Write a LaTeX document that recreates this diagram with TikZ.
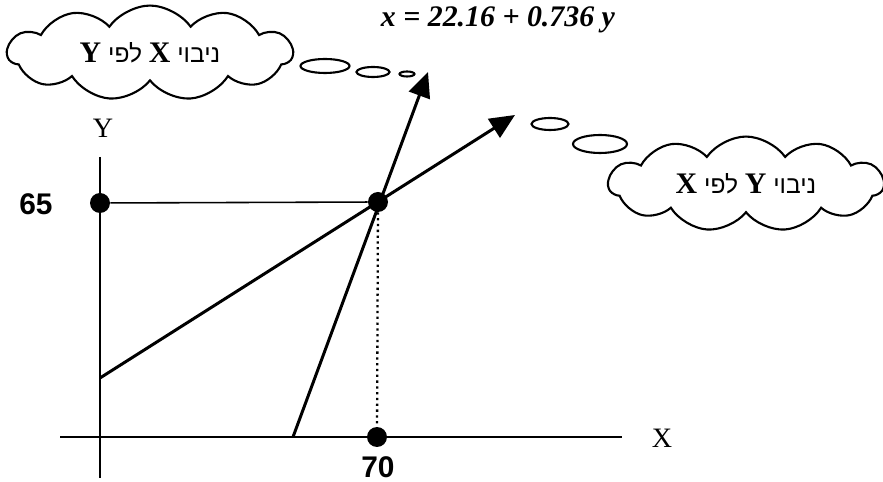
\documentclass[tikz,border=0pt]{standalone}
\usepackage{fontspec}
\setmainfont{Liberation Serif}
\newfontfamily\hebfont[Script=Hebrew]{Liberation Sans}
\newfontfamily\numfont{Liberation Sans}
\TeXXeTstate=1
\usetikzlibrary{
    shapes.symbols,
    shapes.geometric,
    arrows.meta
}
\tikzset{
    >={Triangle[length=0.5cm,width=0.44cm]},
    dot/.style={
        circle,
        fill,
        inner sep=0pt,
        minimum size=0.4cm
    },
    axisline/.style={line width=1.1pt},
    regline/.style={line width=1.7pt},
    thought/.style={
        cloud,
        draw,
        line width=1.2pt,
        cloud puffs=11,
        cloud puff arc=110,
        aspect=2.9,
        inner sep=0pt,
        font=\hebfont\fontsize{14}{16}\selectfont
    },
    bubble/.style={
        ellipse,
        draw,
        line width=1.2pt,
        inner sep=0pt
    },
    numlabel/.style={font=\numfont\bfseries\fontsize{17}{19}\selectfont},
    axislabel/.style={font=\fontsize{16}{18}\selectfont}
}
\newcommand{\varbf}[1]{{\rmfamily\bfseries\fontsize{17}{19}\selectfont #1}}

\begin{document}
\begin{tikzpicture}[
    x=0.02cm,
    y=-0.02cm
]
    \useasboundingbox (0,0) rectangle (883,482);

    % Ecuacion
    \node[anchor=north, font=\fontsize{17}{19}\selectfont] (eqn) at (498,0)
        {\textbf{\textit{x = 22.16 + 0.736 y}}};

    % Ejes
    \coordinate (yTop) at (100,157);
    \coordinate (yBot) at (100,478);
    \coordinate (xLeft) at (60,437);
    \coordinate (xRight) at (622,437);
    \draw[axisline] (yTop) -- (yBot);
    \draw[axisline] (xLeft) -- (xRight);
    \node[axislabel] (ylab) at (103,128) {Y};
    \node[axislabel] (xlab) at (662,438) {X};

    % Puntos
    \node[dot] (p65) at (100,203) {};
    \node[dot] (pc)  at (378,202) {};
    \node[dot] (p70) at (377,437) {};
    \node[numlabel] (l65) at (36,204) {65};
    \node[numlabel] (l70) at (378,467) {70};

    \draw[line width=0.9pt] (p65) -- (pc);
    \draw[dotted, line width=1.3pt] (pc) -- (p70);

    % Rectas de regresion
    \coordinate (yInt) at (100,378);
    \coordinate (xInt) at (293,437);
    \coordinate (tipYX) at (515,115);
    \coordinate (tipXY) at (428,72);
    \draw[regline, ->] (yInt) -- (tipYX);
    \draw[regline, ->] (xInt) -- (tipXY);

    % Nubes
    \node[thought, minimum width=5.7cm, minimum height=1.6cm] (cloudXY) at (150,53)
        {\beginR ניבוי \varbf{X} לפי \varbf{Y}\endR};
    \node[bubble, minimum width=0.98cm, minimum height=0.28cm] (bXY1) at (325,66) {};
    \node[bubble, minimum width=0.66cm, minimum height=0.2cm]  (bXY2) at (373,72) {};
    \node[bubble, minimum width=0.3cm,  minimum height=0.1cm]  (bXY3) at (407,74) {};

    \node[thought, minimum width=5.5cm, minimum height=1.64cm] (cloudYX) at (746,184)
        {\beginR ניבוי \varbf{Y} לפי \varbf{X}\endR};
    \node[bubble, minimum width=0.74cm, minimum height=0.24cm] (bYX1) at (550,124) {};
    \node[bubble, minimum width=1.08cm, minimum height=0.36cm] (bYX2) at (600,144) {};

\end{tikzpicture}
\end{document}
